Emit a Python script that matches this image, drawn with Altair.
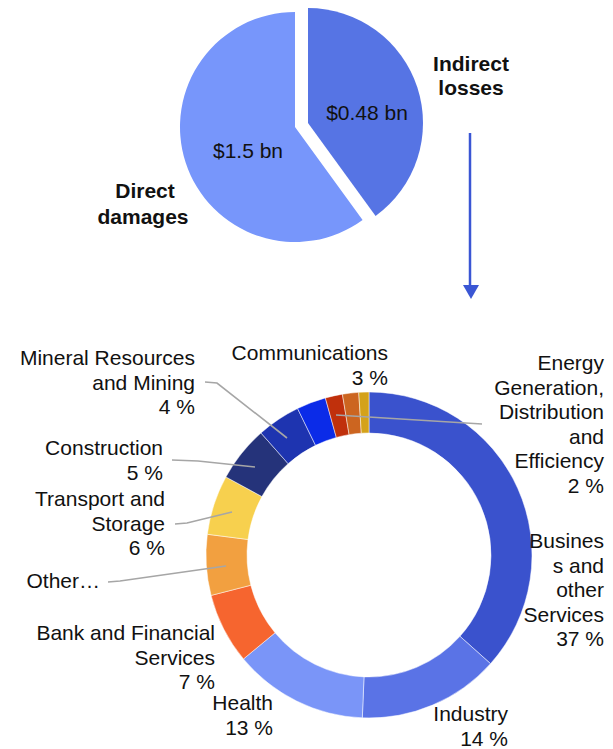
import altair as alt
import pandas as pd

# ---------------- data ----------------
pie_labels = ["Indirect losses", "Direct damages"]
pie_value_text = ["$0.48 bn", "$1.5 bn"]
pie_share = [40, 60]                      # angular share
pie_colors = ["#5674e4", "#7796fb"]

donut_sectors = [
    "Business and other Services", "Industry", "Health",
    "Bank and Financial Services", "Other…", "Transport and Storage",
    "Construction", "Mineral Resources and Mining", "Communications",
    "Energy Generation, Distribution and Efficiency", "Minor sector A", "Minor sector B",
]
donut_share = [36.5, 14.0, 13.3, 7.0, 6.0, 5.9, 5.5, 4.3, 2.9, 1.7, 1.6, 1.0]
donut_pct = ["37 %", "14 %", "13 %", "7 %", "", "6 %", "5 %", "4 %", "3 %", "2 %", "", ""]
donut_colors = [
    "#3a52cd", "#5a73e6", "#7a95f8", "#f6652f", "#f2a040", "#f7d04e",
    "#25337a", "#1e34b0", "#0b2be8", "#c0300c", "#cc6520", "#d4a21a",
]

# ---------------- layout (page pixels) ----------------
M = 8  # page margin
W, H = 597, 741
LINE = 24.5
FONT = "Liberation Sans"

pie_center = (295, 125)
pie_radius = 115
explode = (13, -4)
donut_center = (369, 553)
donut_r = (122, 163)

# label blocks: (right x, first line y, lines)
right_blocks = [
    (195, 357, ["Mineral Resources", "and Mining", donut_pct[7]]),
    (388, 352, ["Communications", donut_pct[8]]),
    (604, 362, ["Energy", "Generation,", "Distribution", "and", "Efficiency", donut_pct[9]]),
    (163, 447, ["Construction", donut_pct[6]]),
    (165, 498, ["Transport and", "Storage", donut_pct[5]]),
    (100, 580, ["Other…"]),
    (215, 632, ["Bank and Financial", "Services", donut_pct[3]]),
    (273, 702, ["Health", donut_pct[2]]),
    (508, 713, ["Industry", donut_pct[1]]),
    (604, 540, ["Busines", "s and", "other", "Services", donut_pct[0]]),
]
center_plain = [(367, 112, pie_value_text[0]), (248, 150, pie_value_text[1])]
center_bold = [(471, 63, "Indirect"), (471, 87, "losses"), (145, 190, "Direct"), (143, 216, "damages")]

leaders = [
    [(205, 380), (217, 381), (287, 436)],
    [(172, 458), (198, 459), (255, 465)],
    [(175, 522), (187, 521), (232, 510)],
    [(108, 580), (120, 579), (226, 564)],
    [(336, 413), (482, 422)],
]
arrow_shaft = [(470, 131), (470, 285)]
arrow_head = (471, 290)

# ---------------- build tables ----------------
pie_df = pd.DataFrame({"label": pie_labels, "share": pie_share,
                       "color": pie_colors, "idx": range(len(pie_labels))})
donut_df = pd.DataFrame({"sector": donut_sectors, "share": donut_share,
                         "color": donut_colors, "idx": range(len(donut_sectors))})

rows = []
for x, y0, lines in right_blocks:
    for i, t in enumerate(lines):
        rows.append({"text": t, "px": x - M, "py": y0 + i * LINE - M})
right_df = pd.DataFrame(rows)
plain_df = pd.DataFrame([{"text": t, "px": x - M, "py": y - M} for x, y, t in center_plain])
bold_df = pd.DataFrame([{"text": t, "px": x - M, "py": y - M} for x, y, t in center_bold])

lrows = []
for k, pts in enumerate(leaders):
    for j, (x, y) in enumerate(pts):
        lrows.append({"id": k, "seq": j, "px": x - M, "py": y - M})
leader_df = pd.DataFrame(lrows)
shaft_df = pd.DataFrame([{"seq": j, "px": x - M, "py": y - M} for j, (x, y) in enumerate(arrow_shaft)])
head_df = pd.DataFrame([{"px": arrow_head[0] - M, "py": arrow_head[1] - M}])

X = lambda f: alt.X(f, scale=None, axis=None)
Y = lambda f: alt.Y(f, scale=None, axis=None)

# ---------------- marks ----------------
pie_base = alt.Chart(pie_df).encode(
    theta=alt.Theta("share:Q", stack=True),
    order=alt.Order("idx:Q"),
    color=alt.Color("color:N", scale=None),
)
pie_direct = pie_base.mark_arc(outerRadius=pie_radius).encode(
    x=alt.value(pie_center[0] - M), y=alt.value(pie_center[1] - M),
    opacity=alt.condition(alt.datum.label == "Direct damages", alt.value(1), alt.value(0)),
)
pie_indirect = pie_base.mark_arc(outerRadius=pie_radius).encode(
    x=alt.value(pie_center[0] + explode[0] - M), y=alt.value(pie_center[1] + explode[1] - M),
    opacity=alt.condition(alt.datum.label == "Indirect losses", alt.value(1), alt.value(0)),
)

donut = alt.Chart(donut_df).mark_arc(
    innerRadius=donut_r[0], outerRadius=donut_r[1], stroke="#ffffff", strokeWidth=0.7, strokeOpacity=0.7
).encode(
    theta=alt.Theta("share:Q", stack=True),
    order=alt.Order("idx:Q"),
    color=alt.Color("color:N", scale=None),
    x=alt.value(donut_center[0] - M), y=alt.value(donut_center[1] - M),
)

leader_lines = alt.Chart(leader_df).mark_line(color="#a6a6a6", strokeWidth=1.6).encode(
    x=X("px:Q"), y=Y("py:Q"), detail="id:N", order="seq:Q")

shaft = alt.Chart(shaft_df).mark_line(color="#3a56d4", strokeWidth=2.5).encode(
    x=X("px:Q"), y=Y("py:Q"), order="seq:Q")
head = alt.Chart(head_df).mark_point(shape="triangle-down", filled=True, size=256,
                                     color="#3a56d4", opacity=1).encode(x=X("px:Q"), y=Y("py:Q"))

txt_right = alt.Chart(right_df).mark_text(align="right", baseline="middle", font=FONT,
                                          fontSize=21, color="#111111").encode(
    x=X("px:Q"), y=Y("py:Q"), text="text:N")
txt_plain = alt.Chart(plain_df).mark_text(align="center", baseline="middle", font=FONT,
                                          fontSize=21, color="#111111").encode(
    x=X("px:Q"), y=Y("py:Q"), text="text:N")
txt_bold = alt.Chart(bold_df).mark_text(align="center", baseline="middle", font=FONT,
                                        fontSize=21, fontWeight="bold", color="#111111").encode(
    x=X("px:Q"), y=Y("py:Q"), text="text:N")

chart = alt.layer(
    pie_direct, pie_indirect, donut, leader_lines, shaft, head, txt_right, txt_plain, txt_bold
).resolve_scale(theta="independent").properties(
    width=W, height=H, padding=0
).configure_view(stroke=None)

chart.save("out.html", embed_options={"renderer": "svg", "actions": False})
